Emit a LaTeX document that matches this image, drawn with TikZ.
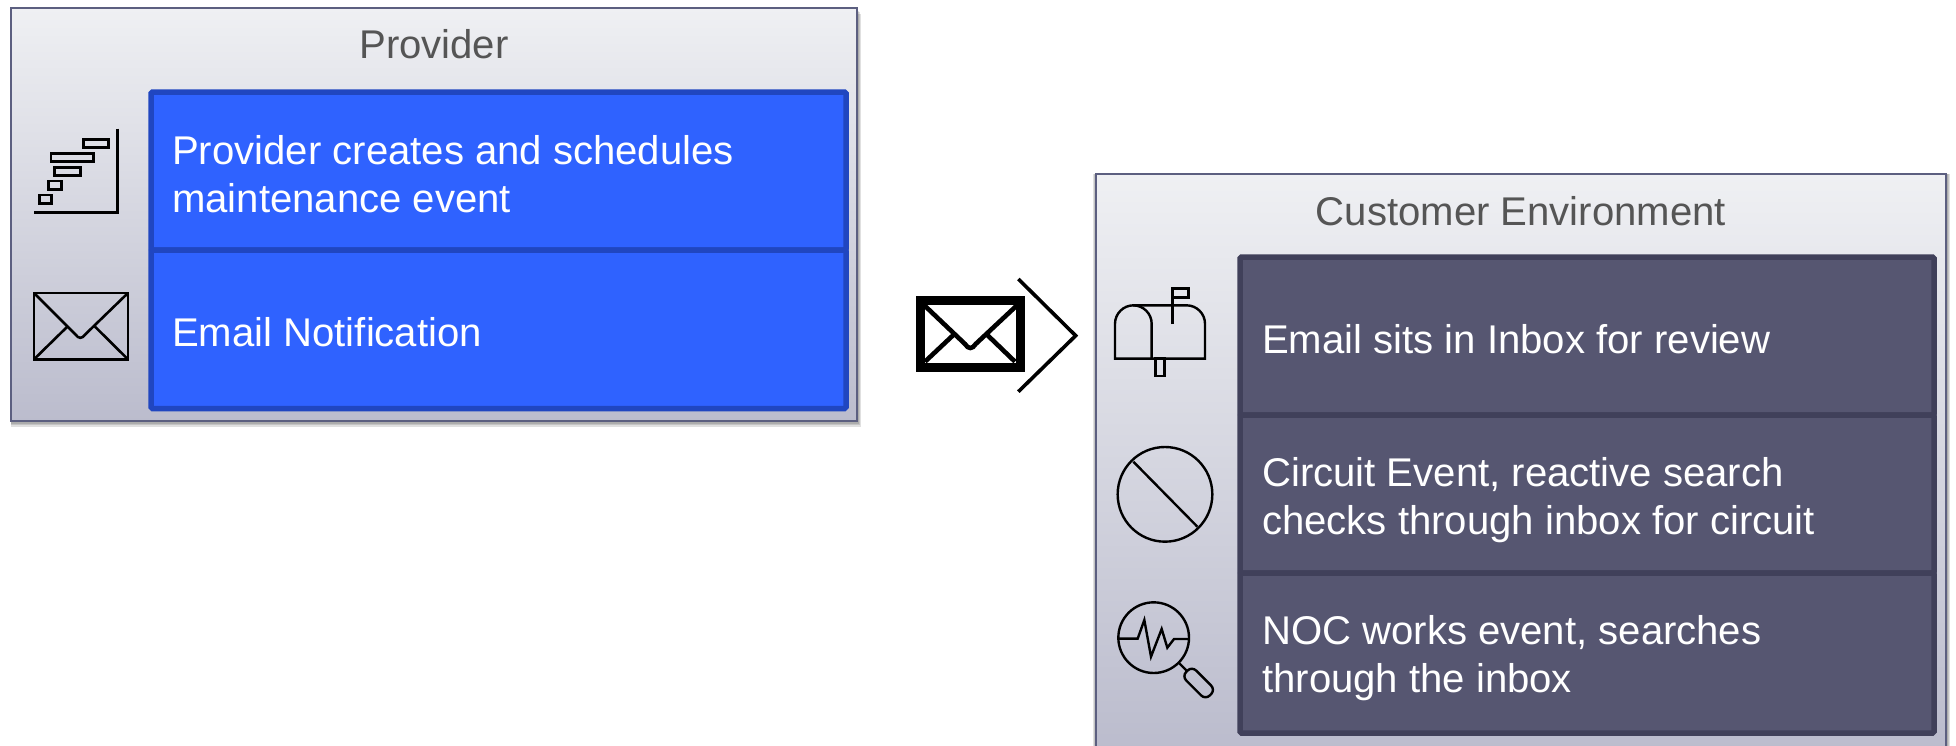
\documentclass[tikz,border=0pt]{standalone}
\usepackage{fontspec}
\setmainfont{Liberation Sans}
\definecolor{gtop}{HTML}{EFF0F3}
\definecolor{gbot}{HTML}{BBBCCD}
\definecolor{framec}{HTML}{5C5F80}
\definecolor{bluefill}{HTML}{2F62FF}
\definecolor{bluedraw}{HTML}{2046C0}
\definecolor{darkfill}{HTML}{565671}
\definecolor{darkdraw}{HTML}{40405A}
\definecolor{titlec}{HTML}{555555}
\tikzset{
  x=1pt,y=-1pt,
  panel/.style={anchor=north west,inner sep=0pt,outer sep=0pt,draw=framec,line width=2.4pt,top color=gtop,bottom color=gbot},
  cellblue/.style={anchor=north west,inner sep=0pt,outer sep=0pt,draw=bluedraw,fill=bluefill,line width=5.5pt,rounded corners=1.5pt},
  celldark/.style={anchor=north west,inner sep=0pt,outer sep=0pt,draw=darkdraw,fill=darkfill,line width=5.5pt,rounded corners=1.5pt},
  bodytext/.style={anchor=base west,inner sep=0pt,text=white,font=\fontsize{40.1}{47.5}\selectfont,align=left},
  titletext/.style={anchor=base,inner sep=0pt,text=titlec,font=\fontsize{40.1}{47.5}\selectfont},
  icon/.style={draw=black,line width=2.4pt,line join=miter},
  shadowr/.style={fill=black,draw=none,opacity=0.12},
}
\begin{document}
\begin{tikzpicture}
\useasboundingbox (0,0) rectangle (1956,745);
\clip (0,0) rectangle (1956,745);
\fill[white] (0,0) rectangle (1956,745);
% shadows
\foreach \d in {1,2.5,4,5.5}{
  \fill[shadowr] (11,8+\d) rectangle (857+\d*0.8,421+\d);
  \fill[shadowr] (1096-\d*0.6,174) rectangle (1946+\d*0.8,760);
}
% panels
\node[panel,minimum width=846pt,minimum height=413pt] (prov) at (11,8) {};
\node[panel,minimum width=850pt,minimum height=576pt] (cust) at (1096,174) {};
% provider cells
\node[cellblue,minimum width=695pt,minimum height=158pt] (p1) at (151,92) {};
\node[cellblue,minimum width=695pt,minimum height=158.5pt] (p2) at (151,250) {};
\node[titletext] (ptitle) at (434,58) {Provider};
\node[bodytext] (p1t) at (172,212) {Provider creates and schedules\\maintenance event};
\node[bodytext] (p2t) at (172,346.5) {Email Notification};
% customer cells
\node[celldark,minimum width=694pt,minimum height=158pt] (c1) at (1240,257) {};
\node[celldark,minimum width=694pt,minimum height=158pt] (c2) at (1240,415) {};
\node[celldark,minimum width=694pt,minimum height=160pt] (c3) at (1240,573) {};
\node[titletext] (ctitle) at (1521,225) {Customer Environment};
\node[bodytext] (c1t) at (1262,353) {Email sits in Inbox for review};
\node[bodytext] (c2t) at (1262,534) {Circuit Event, reactive search\\checks through inbox for circuit};
\node[bodytext] (c3t) at (1262,692) {NOC works event, searches\\through the inbox};
% gantt icon
\begin{scope}[scale=1/3]
  \draw[icon] (352,386) -- (352,637) -- (101,637);
  \draw[icon] (250,419) rectangle (325,443);
  \draw[icon] (153,461) rectangle (280,485);
  \draw[icon] (164,502) rectangle (242,526);
  \draw[icon] (145,543) rectangle (185,568);
  \draw[icon] (118,585) rectangle (155,610);
  % envelope icon
  \draw[icon,line width=2.6pt] (102,879) rectangle (384,1078);
  \draw[icon,line width=2.6pt] (102,879) -- (226,1003) .. controls (236,1017) and (246,1017) .. (256,1003) -- (384,879);
  \draw[icon,line width=2.6pt] (102,1078) -- (202,980);
  \draw[icon,line width=2.6pt] (384,1078) -- (285,980);
\end{scope}
\begin{scope}[shift={(900,250)},scale=1/3]
  % big envelope
  \draw[icon,line width=9pt] (62,151) rectangle (361,352);
  \draw[icon,line width=4.6pt] (72,165) -- (195,282) .. controls (205,298) and (217,298) .. (227,282) -- (352,165);
  \draw[icon,line width=4.6pt] (75,335) -- (160,255);
  \draw[icon,line width=4.6pt] (345,335) -- (262,255);
  \draw[icon,line width=3.6pt] (355,87) -- (527,257) -- (355,425);
  % mailbox
  \draw[icon] (645,326) -- (915,326) -- (915,221) .. controls (915,191) and (890,166) .. (860,166) -- (700,166) .. controls (670,166) and (645,191) .. (645,221) -- cycle;
  \draw[icon] (700,166) .. controls (730,166) and (755,191) .. (755,221) -- (755,326);
  \draw[icon] (767,326) rectangle (793,378);
  \draw[icon] (818,222) -- (818,115) -- (865,115) -- (865,143) -- (818,143);
  % no sign
  \draw[icon] (795,733) circle[radius=142];
  \draw[icon] (700,635) -- (892,830);
  % magnifier
  \draw[icon] (761,1163) circle[radius=106];
  \draw[icon] (655,1166) -- (713,1166) -- (733,1110) -- (753,1220) -- (785,1137) -- (802,1193) -- (822,1167) -- (867,1167);
  \draw[icon] (838,1240) -- (860,1262);
  \draw[icon,shift={(896,1299)},rotate=-45,rounded corners=6pt] (-50,-21) rectangle (50,21);
\end{scope}
\end{tikzpicture}
\end{document}
